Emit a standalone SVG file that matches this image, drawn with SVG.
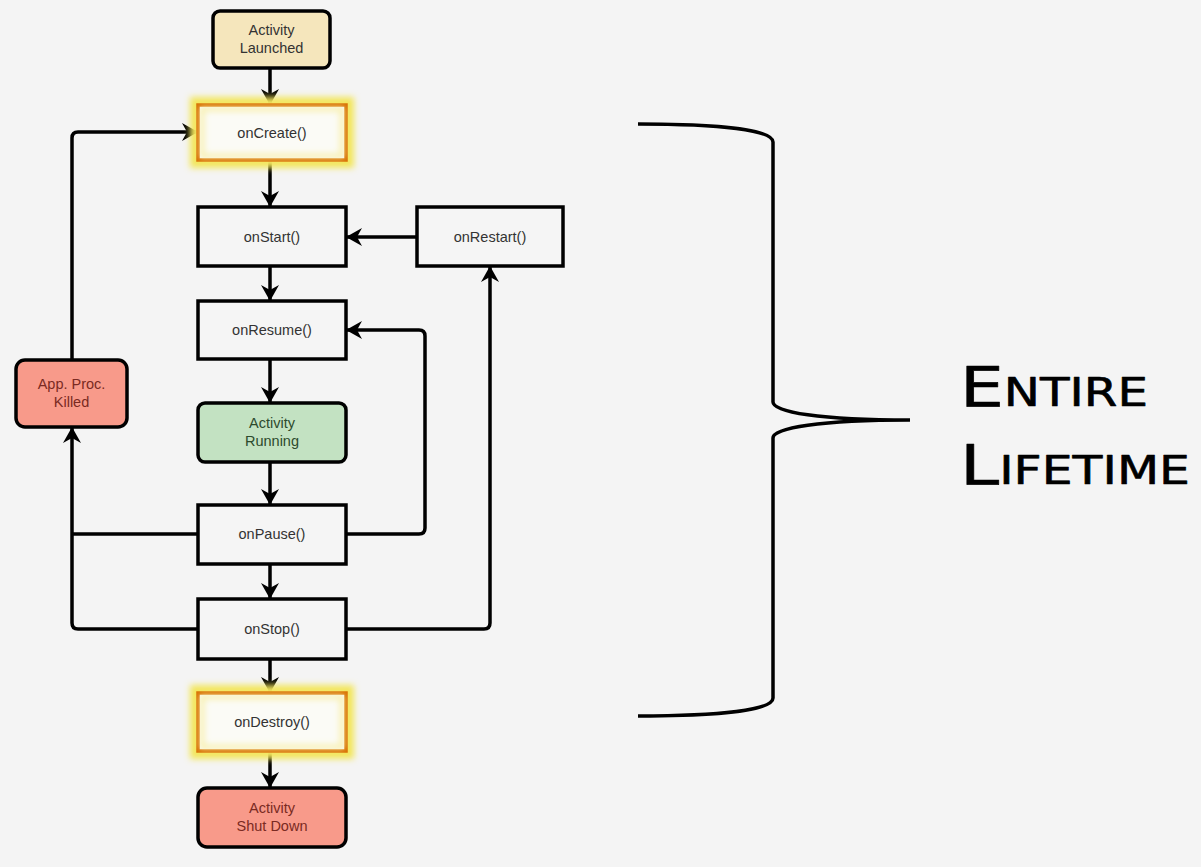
<svg xmlns="http://www.w3.org/2000/svg" width="1201" height="867" viewBox="0 0 1201 867">
<defs>
<style>
.box{stroke:#000;stroke-width:3.5;}
.plain{fill:#f5f5f5;}
.lbl{font-family:"Liberation Sans",Arial,sans-serif;font-size:14.5px;fill:#333;text-anchor:middle;}
.conn{fill:none;stroke:#000;stroke-width:3.5;stroke-linejoin:round;}
.big{font-family:"DejaVu Sans","Liberation Sans",sans-serif;font-variant:small-caps;font-size:56px;fill:#000;stroke:#000;stroke-width:0.6;stroke-linejoin:round;}
</style>
<marker id="ah" viewBox="0 0 16 18" refX="15" refY="9" markerWidth="16" markerHeight="18" markerUnits="userSpaceOnUse" orient="auto">
<path d="M0,0 L16,9 L0,18 L5,9 z" fill="#000"/>
</marker>
<filter id="glow" x="-20%" y="-40%" width="140%" height="180%">
<feGaussianBlur stdDeviation="3"/>
</filter>
</defs>
<rect width="1201" height="867" fill="#f4f4f4"/>

<g id="connectors">
<path class="conn" d="M270,68 V104" marker-end="url(#ah)"/>
<path class="conn" d="M270,161 V206" marker-end="url(#ah)"/>
<path class="conn" d="M270,266 V300" marker-end="url(#ah)"/>
<path class="conn" d="M270,359 V402" marker-end="url(#ah)"/>
<path class="conn" d="M270,462 V504" marker-end="url(#ah)"/>
<path class="conn" d="M270,564 V598" marker-end="url(#ah)"/>
<path class="conn" d="M270,659 V692" marker-end="url(#ah)"/>
<path class="conn" d="M270,752 V787" marker-end="url(#ah)"/>
<path class="conn" d="M417,237 H347" marker-end="url(#ah)"/>
<path class="conn" d="M346,534 H419 Q425,534 425,528 V336 Q425,330 419,330 H347" marker-end="url(#ah)"/>
<path class="conn" d="M346,629 H484 Q490,629 490,623 V267" marker-end="url(#ah)"/>
<path class="conn" d="M198,534 H72"/>
<path class="conn" d="M198,629 H78 Q72,629 72,623 V428" marker-end="url(#ah)"/>
<path class="conn" d="M72,360 V138 Q72,132 78,132 H197" marker-end="url(#ah)"/>
</g>

<g id="activity-launched">
<rect class="box" x="213" y="11" width="117" height="57" rx="7" fill="#f5e6bc"/>
<text class="lbl" x="271.5" y="35">Activity</text>
<text class="lbl" x="271.5" y="53">Launched</text>
</g>

<g id="onCreate">
<rect x="197" y="104" width="150" height="57" fill="none" stroke="#f3e65a" stroke-width="14" filter="url(#glow)"/>
<rect x="198" y="105" width="148" height="55" fill="#fbfbf6" stroke="#d86f00" stroke-width="3.5"/>
<rect x="202" y="109" width="140" height="47" fill="none" stroke="#f7eda0" stroke-width="4" filter="url(#glow)"/>
<text class="lbl" x="272" y="138">onCreate()</text>
</g>

<g id="onStart">
<rect class="box plain" x="198" y="207" width="148" height="59"/>
<text class="lbl" x="272" y="242">onStart()</text>
</g>

<g id="onRestart">
<rect class="box plain" x="417" y="207" width="146" height="59"/>
<text class="lbl" x="490" y="242">onRestart()</text>
</g>

<g id="onResume">
<rect class="box plain" x="198" y="301" width="148" height="58"/>
<text class="lbl" x="272" y="335">onResume()</text>
</g>

<g id="activity-running">
<rect class="box" x="198" y="403" width="148" height="59" rx="7" fill="#c3e2c2"/>
<text class="lbl" x="272" y="428" style="fill:#2d4a2d">Activity</text>
<text class="lbl" x="272" y="446" style="fill:#2d4a2d">Running</text>
</g>

<g id="onPause">
<rect class="box plain" x="198" y="505" width="148" height="59"/>
<text class="lbl" x="272" y="539">onPause()</text>
</g>

<g id="onStop">
<rect class="box plain" x="198" y="599" width="148" height="60"/>
<text class="lbl" x="272" y="634">onStop()</text>
</g>

<g id="onDestroy">
<rect x="197" y="692" width="150" height="60" fill="none" stroke="#f3e65a" stroke-width="14" filter="url(#glow)"/>
<rect x="198" y="693" width="148" height="58" fill="#fbfbf6" stroke="#d86f00" stroke-width="3.5"/>
<rect x="202" y="697" width="140" height="50" fill="none" stroke="#f7eda0" stroke-width="4" filter="url(#glow)"/>
<text class="lbl" x="272" y="727">onDestroy()</text>
</g>

<g id="activity-shut-down">
<rect class="box" x="198" y="788" width="148" height="59" rx="9" fill="#f89a8a"/>
<text class="lbl" x="272" y="813" style="fill:#7a2a22">Activity</text>
<text class="lbl" x="272" y="831" style="fill:#7a2a22">Shut Down</text>
</g>

<g id="app-proc-killed">
<rect class="box" x="16" y="360" width="111" height="67" rx="9" fill="#f89a8a"/>
<text class="lbl" x="71.5" y="389" style="fill:#7a2a22">App. Proc.</text>
<text class="lbl" x="71.5" y="407" style="fill:#7a2a22">Killed</text>
</g>

<g id="entire-lifetime">
<path d="M638,124 C720,124 773,130 773,142 V402 C773,412 820,420 910,420 C820,420 773,428 773,438 V698 C773,710 720,716 638,716" fill="none" stroke="#000" stroke-width="3.5"/>
<text class="big" x="960" y="406" textLength="188" lengthAdjust="spacingAndGlyphs">Entire</text>
<text class="big" x="960" y="484" textLength="230" lengthAdjust="spacingAndGlyphs">Lifetime</text>
</g>
</svg>
